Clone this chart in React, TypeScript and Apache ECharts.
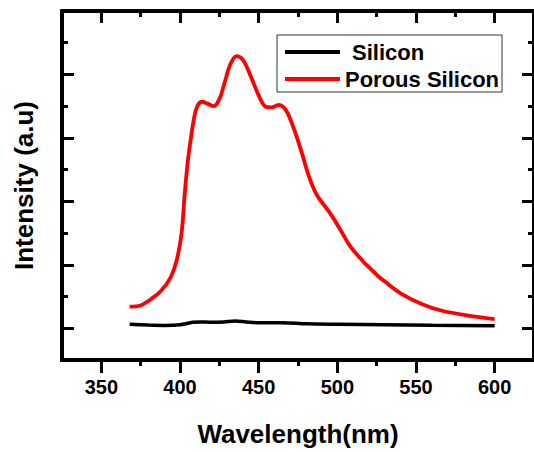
import React, { useEffect, useRef } from 'react';
import * as echarts from 'echarts';

// Porous Silicon PL spectrum (wavelength nm, intensity a.u.)
const porousWavelength = [368, 375, 381, 388, 394, 398, 401, 403, 405, 407, 409, 411, 414, 417.5, 421.5, 425, 428, 432, 436, 440, 444.5, 450, 454, 458, 463, 467.5, 472, 477, 482, 487, 495.5, 502, 508, 516.5, 521, 526, 530, 541, 554, 566, 583, 600];
const porousIntensity = [0.34, 0.36, 0.45, 0.59, 0.8, 1.08, 1.5, 2.12, 2.64, 3.01, 3.32, 3.5, 3.57, 3.54, 3.5, 3.61, 3.84, 4.16, 4.29, 4.23, 4.0, 3.67, 3.5, 3.48, 3.52, 3.43, 3.17, 2.8, 2.39, 2.1, 1.81, 1.55, 1.3, 1.05, 0.94, 0.82, 0.74, 0.54, 0.38, 0.28, 0.2, 0.145];

// Silicon spectrum
const siliconWavelength = [368, 380, 390, 400, 408, 413, 420, 428, 435, 442, 450, 465, 480, 500, 530, 560, 600];
const siliconIntensity = [0.0625, 0.05, 0.045, 0.055, 0.094, 0.1, 0.094, 0.1, 0.115, 0.1, 0.086, 0.086, 0.07, 0.0625, 0.055, 0.047, 0.04];

const xMajorTicks = [350, 400, 450, 500, 550, 600];
const xMinorTicks = [375, 425, 475, 525, 575];
const yMajorTicks = [0, 1, 2, 3, 4, 5];
const yMinorTicks = [0.5, 1.5, 2.5, 3.5, 4.5];

const X_MIN = 325;
const X_MAX = 625;
const Y_MIN = -0.5;
const Y_MAX = 5;

const FONT = 'Liberation Sans, Arial, Helvetica, sans-serif';

export default function App() {
  const ref = useRef<HTMLDivElement>(null);

  useEffect(() => {
    if (!ref.current) return;
    const chart = echarts.init(ref.current, undefined, { renderer: 'svg' });

    const baseX = (position: 'top' | 'bottom', ticks: number[], len: number, inside: boolean, extra: any = {}) => ({
      type: 'value',
      position,
      min: X_MIN,
      max: X_MAX,
      axisLine: { show: true, onZero: false, lineStyle: { color: '#000', width: 4 } },
      axisTick: { show: true, inside, length: len, customValues: ticks, lineStyle: { color: '#000', width: 3 } },
      axisLabel: { show: false },
      splitLine: { show: false },
      ...extra,
    });
    const baseY = (position: 'left' | 'right', ticks: number[], len: number, extra: any = {}) => ({
      type: 'value',
      position,
      min: Y_MIN,
      max: Y_MAX,
      axisLine: { show: true, onZero: false, lineStyle: { color: '#000', width: 4 } },
      axisTick: { show: true, inside: true, length: len, customValues: ticks, lineStyle: { color: '#000', width: 3 } },
      axisLabel: { show: false },
      splitLine: { show: false },
      ...extra,
    });

    chart.setOption({
      animation: false,
      backgroundColor: '#fff',
      grid: { left: 62, right: -8, top: 11, bottom: 89, containLabel: false },
      xAxis: [
        baseX('bottom', xMajorTicks, 13, false, {
          name: 'Wavelength(nm)',
          nameLocation: 'middle',
          nameGap: 61,
          nameTextStyle: { fontSize: 26, fontWeight: 'bold', color: '#000', fontFamily: FONT },
          axisLabel: {
            show: true,
            customValues: xMajorTicks,
            margin: 17,
            fontSize: 20,
            fontWeight: 'bold',
            color: '#000',
            fontFamily: FONT,
          },
        }),
        baseX('bottom', xMinorTicks, 6, false),
        baseX('top', xMajorTicks, 12, true),
        baseX('top', xMinorTicks, 6, true),
      ],
      yAxis: [
        baseY('left', yMajorTicks, 12, {
          name: 'Intensity (a.u)',
          nameLocation: 'middle',
          nameGap: 25,
          nameRotate: 90,
          nameTextStyle: { fontSize: 26, fontWeight: 'bold', color: '#000', fontFamily: FONT },
        }),
        baseY('left', yMinorTicks, 6),
        baseY('right', yMajorTicks, 12),
        baseY('right', yMinorTicks, 6),
      ],
      legend: {
        left: 277,
        top: 35,
        orient: 'vertical',
        icon: 'rect',
        itemWidth: 55,
        itemHeight: 4,
        itemGap: 5,
        padding: [6, 3, 2, 8],
        borderColor: '#333',
        borderWidth: 1,
        backgroundColor: '#fff',
        textStyle: { fontSize: 22, fontWeight: 'bold', color: '#000', fontFamily: FONT },
        data: [
          { name: 'Silicon', textStyle: { padding: [0, 0, 0, 7] } },
          { name: 'Porous Silicon' },
        ],
      },
      series: [
        {
          name: 'Silicon',
          type: 'line',
          xAxisIndex: 0,
          yAxisIndex: 0,
          symbol: 'none',
          smooth: 0.3,
          lineStyle: { color: '#000', width: 3.5 },
          itemStyle: { color: '#000' },
          data: siliconWavelength.map((w, i) => [w, siliconIntensity[i]]),
        },
        {
          name: 'Porous Silicon',
          type: 'line',
          xAxisIndex: 0,
          yAxisIndex: 0,
          symbol: 'none',
          smooth: 0.35,
          lineStyle: { color: '#ff0000', width: 3.8 },
          itemStyle: { color: '#ff0000' },
          data: porousWavelength.map((w, i) => [w, porousIntensity[i]]),
        },
      ],
    });

    return () => chart.dispose();
  }, []);

  return (
    <div
      ref={ref}
      style={{ position: 'fixed', left: 0, top: 0, width: 534, height: 452, background: '#fff' }}
    />
  );
}
